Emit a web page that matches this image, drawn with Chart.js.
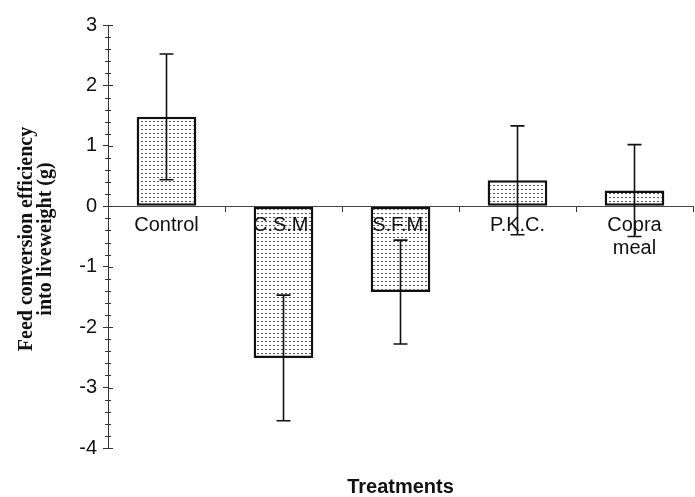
<!DOCTYPE html>
<html>
<head>
<meta charset="utf-8">
<script src="https://cdn.jsdelivr.net/npm/chart.js@4.4.1/dist/chart.umd.min.js"></script>
<style>
  html, body { margin: 0; padding: 0; background: #fff; }
  #wrap { width: 695px; height: 497px; }
</style>
</head>
<body>
<div id="wrap"><canvas id="fceChart"></canvas></div>
<script>
// data
const treatments = ['Control', 'C.S.M.', 'S.F.M.', 'P.K.C.', ['Copra', 'meal']];
const meanFce = [1.48, -2.51, -1.42, 0.43, 0.26];
const errFce = [1.04, 1.04, 0.86, 0.90, 0.76];
const yMin = -4;
const yMax = 3;
const yStep = 1;
const minorPerMajor = 5;

// stippled fill like the scanned bars
function dotPattern() {
  const c = document.createElement('canvas');
  c.width = 4;
  c.height = 4;
  const g = c.getContext('2d');
  g.fillStyle = '#fff';
  g.fillRect(0, 0, 4, 4);
  g.fillStyle = '#555';
  g.fillRect(1, 1, 2, 1);
  return g.createPattern(c, 'repeat');
}

const errorBars = {
  id: 'errorBars',
  afterDraw(chart) {
    const { ctx, scales: { y } } = chart;
    const meta = chart.getDatasetMeta(0);
    ctx.save();
    ctx.strokeStyle = '#111';
    ctx.lineWidth = 1.6;
    meta.data.forEach((bar, i) => {
      const hi = y.getPixelForValue(meanFce[i] + errFce[i]);
      const lo = y.getPixelForValue(meanFce[i] - errFce[i]);
      ctx.beginPath();
      ctx.moveTo(bar.x, hi);
      ctx.lineTo(bar.x, lo);
      ctx.moveTo(bar.x - 7, hi);
      ctx.lineTo(bar.x + 7, hi);
      ctx.moveTo(bar.x - 7, lo);
      ctx.lineTo(bar.x + 7, lo);
      ctx.stroke();
    });
    ctx.restore();
  }
};

// minor ticks and the inner half of the major ticks on the y axis
const yMinorTicks = {
  id: 'yMinorTicks',
  afterDraw(chart) {
    const { ctx, chartArea, scales: { y } } = chart;
    const x0 = chartArea.left;
    ctx.save();
    ctx.strokeStyle = '#333';
    ctx.lineWidth = 1;
    ctx.beginPath();
    for (let i = yMin * minorPerMajor; i <= yMax * minorPerMajor; i++) {
      const py = Math.round(y.getPixelForValue(i / minorPerMajor)) + 0.5;
      const major = i % minorPerMajor === 0;
      ctx.moveTo(x0 - (major ? 0 : 3), py);
      ctx.lineTo(x0 + (major ? 5 : 3), py);
    }
    ctx.stroke();
    ctx.restore();
  }
};

const ctx = document.getElementById('fceChart').getContext('2d');
new Chart(ctx, {
  type: 'bar',
  data: {
    labels: treatments,
    datasets: [{
      data: meanFce,
      backgroundColor: dotPattern(),
      borderColor: '#111',
      borderWidth: 2.5,
      borderSkipped: false,
      barPercentage: 0.51,
      categoryPercentage: 1
    }]
  },
  options: {
    responsive: true,
    maintainAspectRatio: false,
    animation: false,
    layout: { padding: { top: 25, right: 2, left: 0, bottom: 0 } },
    plugins: {
      legend: { display: false },
      tooltip: { enabled: false },
      title: {
        display: true,
        position: 'bottom',
        fullSize: false,
        text: 'Treatments',
        color: '#111',
        font: { family: 'Arial, Liberation Sans', size: 20, weight: 'bold', lineHeight: 1 },
        padding: { top: 29, bottom: 0 }
      }
    },
    scales: {
      x: {
        position: { y: 0 },
        afterFit(scale) { scale.height = 0; },
        grid: { drawOnChartArea: false, drawTicks: true, tickLength: 5, color: '#333', offset: true },
        border: { display: true, color: '#444', width: 1, dash: [6, 3], z: 1 },
        ticks: {
          z: 1,
          color: '#111',
          padding: 3,
          maxRotation: 0,
          autoSkip: false,
          font: { family: 'Arial, Liberation Sans', size: 20, lineHeight: 1.15 }
        }
      },
      y: {
        min: yMin,
        max: yMax,
        afterFit(scale) { scale.width = 108; },
        grid: { drawOnChartArea: false, drawTicks: true, tickLength: 5, color: '#333' },
        border: { display: true, color: '#333', width: 1 },
        ticks: {
          stepSize: yStep,
          color: '#111',
          padding: 6,
          font: { family: 'Arial, Liberation Sans', size: 20 }
        },
        title: {
          display: true,
          text: ['Feed conversion efficiency ', 'into liveweight (g) '],
          color: '#111',
          font: { family: 'Liberation Serif, Times New Roman', size: 20, weight: 'bold', lineHeight: 0.95 },
          padding: { top: 17, bottom: 0 }
        }
      }
    }
  },
  plugins: [errorBars, yMinorTicks]
});
</script>
</body>
</html>
